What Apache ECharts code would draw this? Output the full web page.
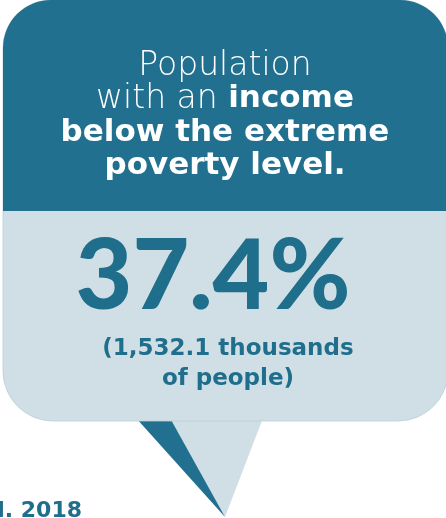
<!DOCTYPE html>
<html>
<head>
<meta charset="utf-8">
<script src="https://cdn.jsdelivr.net/npm/echarts@6/dist/echarts.min.js"></script>
<style>
  html, body { margin: 0; padding: 0; background: #ffffff; }
  #chart { width: 446px; height: 518px; }
</style>
</head>
<body>
<div id="chart"></div>
<script>
// ---- data ----
const titleLines = ['Population', 'with an ', 'income', 'below the extreme', 'poverty level.'];
const sharePercent = [37.4];
const peopleThousands = [1532.1];
const yearLabel = ['l. 2018'];

// ---- styles ----
const DARK = '#22708F';
const LIGHT = '#D0DFE5';
const TEXT_DARK = '#1F6E8C';
const FONT = 'DejaVu Sans';

const fmtPct = v => v.toFixed(1) + '%';
const fmtThousands = v => v.toLocaleString('en-US', { minimumFractionDigits: 1, maximumFractionDigits: 1 });

const chart = echarts.init(document.getElementById('chart'), null, { renderer: 'canvas' });

const option = {
  backgroundColor: '#ffffff',
  animation: false,
  graphic: [
    // tail (light)
    { type: 'polygon', shape: { points: [[168, 418], [225, 517], [263, 418]] }, style: { fill: LIGHT } , z: 1},
    // tail (dark edge)
    { type: 'polygon', shape: { points: [[136, 418], [170, 418], [225, 517]] }, style: { fill: DARK }, z: 1 },
    // light box
    { type: 'rect', shape: { x: 3, y: 0, width: 445, height: 421, r: [48, 48, 50, 50] },
      style: { fill: LIGHT, stroke: '#B9CFD8', lineWidth: 0.8 }, z: 2 },
    // dark header
    { type: 'rect', shape: { x: 3, y: 0, width: 445, height: 211, r: [48, 48, 0, 0] },
      style: { fill: DARK }, z: 3 },
    // title
    { type: 'text', z: 4, style: { x: 225, y: 66, text: titleLines[0], fill: '#ffffff',
      font: '200 33px "' + FONT + '"', align: 'center', verticalAlign: 'middle' } },
    { type: 'text', z: 4, style: { x: 225, y: 99,
      text: '{a|' + titleLines[1] + '}{b|' + titleLines[2] + '}', align: 'center', verticalAlign: 'middle',
      rich: {
        a: { fill: '#ffffff', fontFamily: FONT, fontWeight: 200, fontSize: 33 },
        b: { fill: '#ffffff', fontFamily: FONT, fontWeight: 'bold', fontSize: 31 }
      } } },
    { type: 'text', z: 4, style: { x: 225, y: 133, text: titleLines[3], fill: '#ffffff',
      font: 'bold 31px "' + FONT + '"', align: 'center', verticalAlign: 'middle' } },
    { type: 'text', z: 4, style: { x: 225, y: 166, text: titleLines[4], fill: '#ffffff',
      font: 'bold 31px "' + FONT + '"', align: 'center', verticalAlign: 'middle' } },
    // big number
    { type: 'text', z: 4, style: { x: 213, y: 277, text: fmtPct(sharePercent[0]), fill: TEXT_DARK,
      font: '900 98px "Lato"', align: 'center', verticalAlign: 'middle' } },
    // sub text
    { type: 'text', z: 4, style: { x: 228, y: 349, text: '(' + fmtThousands(peopleThousands[0]) + ' thousands',
      fill: TEXT_DARK, font: 'bold 23px "' + FONT + '"', align: 'center', verticalAlign: 'middle' } },
    { type: 'text', z: 4, style: { x: 228, y: 379, text: 'of people)',
      fill: TEXT_DARK, font: 'bold 23px "' + FONT + '"', align: 'center', verticalAlign: 'middle' } },
    // bottom-left year label (cropped)
    { type: 'text', z: 4, style: { x: 82, y: 511, text: yearLabel[0], fill: TEXT_DARK,
      font: 'bold 22px "' + FONT + '"', align: 'right', verticalAlign: 'middle' } }
  ]
};
chart.setOption(option);
</script>
</body>
</html>
